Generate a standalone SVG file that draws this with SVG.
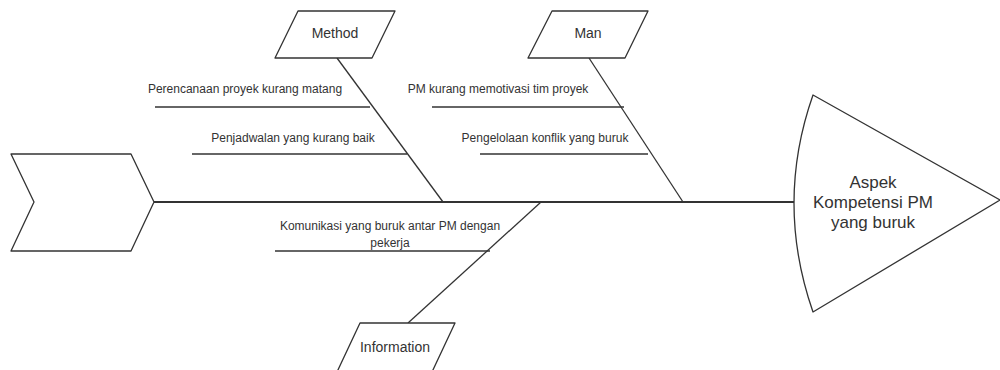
<svg xmlns="http://www.w3.org/2000/svg" width="1000" height="370" viewBox="0 0 1000 370">
<style>
.shape{fill:#fff;stroke:#333;stroke-width:1.3;stroke-linejoin:round}
.line{fill:none;stroke:#333;stroke-width:1.3}
.spine{fill:none;stroke:#333;stroke-width:2}
.under{fill:none;stroke:#333;stroke-width:1.5}
text{font-family:"Liberation Sans",Arial,sans-serif;fill:#333;text-anchor:middle}
.small{font-size:12px}
.label{font-size:14px}
.big{font-size:17px}
</style>
<rect width="1000" height="370" fill="#fff"/>
<g id="connectors">
<line class="spine" x1="154" y1="202" x2="794" y2="202"/>
<line class="line" x1="337" y1="58" x2="443" y2="202"/>
<line class="line" x1="589" y1="58" x2="683" y2="202"/>
<line class="line" x1="541" y1="202" x2="408" y2="323"/>
<line class="under" x1="155" y1="107" x2="370" y2="107"/>
<line class="under" x1="192" y1="154" x2="407" y2="154"/>
<line class="under" x1="432" y1="107" x2="624" y2="107"/>
<line class="under" x1="480" y1="154" x2="648" y2="154"/>
<line class="under" x1="275" y1="251" x2="490" y2="251"/>
</g>
<g id="tail">
<polygon class="shape" points="11,154 131,154 154,202 131,251 11,251 34,202"/>
</g>
<g id="head">
<path class="shape" d="M813,95 L1000,200 L813,312 Q775,203 813,95 Z"/>
<text class="big" x="873" y="188">Aspek</text>
<text class="big" x="873" y="208">Kompetensi PM</text>
<text class="big" x="873" y="228">yang buruk</text>
</g>
<g id="method">
<polygon class="shape" points="298,11 395,11 372,58 275,58"/>
<text class="label" x="335" y="38">Method</text>
</g>
<g id="man">
<polygon class="shape" points="552,11 648,11 625,58 528,58"/>
<text class="label" x="588" y="38">Man</text>
</g>
<g id="information">
<polygon class="shape" points="360,323 455,323 432,372 337,372"/>
<text class="label" x="395" y="352">Information</text>
</g>
<g id="cause-perencanaan">
<text class="small" x="245" y="93">Perencanaan proyek kurang matang</text>
</g>
<g id="cause-penjadwalan">
<text class="small" x="293" y="142">Penjadwalan yang kurang baik</text>
</g>
<g id="cause-motivasi">
<text class="small" x="498" y="93">PM kurang memotivasi tim proyek</text>
</g>
<g id="cause-konflik">
<text class="small" x="545" y="142">Pengelolaan konflik yang buruk</text>
</g>
<g id="cause-komunikasi">
<text class="small" x="390" y="230">Komunikasi yang buruk antar PM dengan</text>
<text class="small" x="390" y="247">pekerja</text>
</g>
</svg>
